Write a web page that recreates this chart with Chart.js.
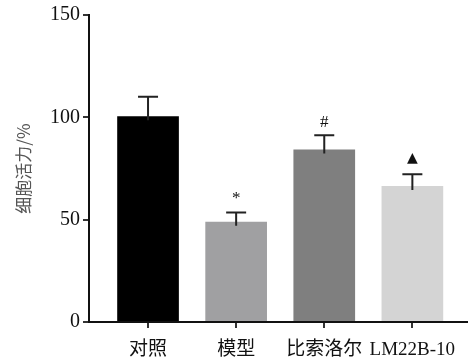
<!DOCTYPE html>
<html>
<head>
<meta charset="utf-8">
<script src="https://cdn.jsdelivr.net/npm/chart.js@4"></script>
<style>
  html, body { margin: 0; padding: 0; background: #fff; }
  #wrap { width: 468px; height: 359px; }
</style>
</head>
<body>
<div id="wrap"><canvas id="myChartBar"></canvas></div>
<script>
  // dados do gráfico
  const categories = ["对照", "模型", "比索洛尔", "LM22B-10"];
  const viability = [100.5, 49, 84.3, 66.5];
  const errors = [9.5, 4.5, 7, 5.7];
  const marks = ["", "*", "#", "▲"];
  const barColors = ["#000000", "#a0a0a2", "#7f7f7f", "#d4d4d4"];
  const yTicks = [0, 50, 100, 150];

  const serif = "'Liberation Serif', 'Noto Sans CJK SC', serif";

  // barras de erro + marcas de significância
  const errorBars = {
    id: "errorBars",
    afterDatasetsDraw(chart) {
      const { ctx, scales: { x, y } } = chart;
      ctx.save();
      ctx.strokeStyle = "#222";
      ctx.lineWidth = 2;
      viability.forEach((v, i) => {
        const px = x.getPixelForValue(i);
        const yTop = y.getPixelForValue(v + errors[i]);
        const yBar = y.getPixelForValue(v);
        ctx.beginPath();
        ctx.moveTo(px, yBar + 4);
        ctx.lineTo(px, yTop);
        ctx.moveTo(px - 10, yTop);
        ctx.lineTo(px + 10, yTop);
        ctx.stroke();
        if (marks[i]) {
          ctx.fillStyle = "#111";
          ctx.textAlign = "center";
          ctx.textBaseline = "bottom";
          ctx.font = marks[i] === "▲" ? "14px 'DejaVu Sans'" : "17px " + serif;
          ctx.fillText(marks[i], px, yTop - (marks[i] === "#" ? 4 : marks[i] === "*" ? 5 : 9));
        }
      });
      ctx.restore();
    }
  };

  const config_bar = {
    type: "bar",
    data: {
      datasets: [{
        label: "细胞活力/%",
        data: viability.map((v, i) => ({ x: i, y: v })),
        backgroundColor: barColors,
        borderWidth: 0,
        barPercentage: 0.7,
        categoryPercentage: 1
      }]
    },
    options: {
      responsive: true,
      maintainAspectRatio: false,
      animation: false,
      layout: { padding: { top: 14, right: 1, left: 0, bottom: 0 } },
      plugins: { legend: { display: false }, tooltip: { enabled: false } },
      scales: {
        x: {
          type: "linear",
          min: -0.67,
          max: 3.62,
          offset: false,
          afterBuildTicks: s => { s.ticks = categories.map((_, i) => ({ value: i })); },
          afterFit: s => { s.height = 37; },
          border: { display: true, color: "#111", width: 2 },
          grid: { display: true, offset: false, drawOnChartArea: false, drawTicks: true, tickLength: 6, color: "#333", lineWidth: 2 },
          ticks: {
            callback: v => categories[v],
            autoSkip: false,
            maxRotation: 0,
            padding: 11,
            color: "#111",
            font: { family: serif, size: 19 }
          }
        },
        y: {
          min: 0,
          max: 150,
          afterBuildTicks: s => { s.ticks = yTicks.map(v => ({ value: v })); },
          afterFit: s => { s.width = 89; },
          border: { display: true, color: "#111", width: 2 },
          grid: { display: true, drawOnChartArea: false, drawTicks: true, tickLength: 6, color: "#333", lineWidth: 2 },
          ticks: {
            padding: 3,
            color: "#111",
            font: { family: serif, size: 20 }
          },
          title: {
            display: true,
            text: "细胞活力/%",
            color: "#555",
            padding: { top: 13, bottom: 0 },
            font: { family: "'Noto Sans CJK SC', sans-serif", size: 17 }
          }
        }
      }
    },
    plugins: [errorBars]
  };

  var myChartBar = new Chart(document.getElementById("myChartBar"), config_bar);
</script>
</body>
</html>
